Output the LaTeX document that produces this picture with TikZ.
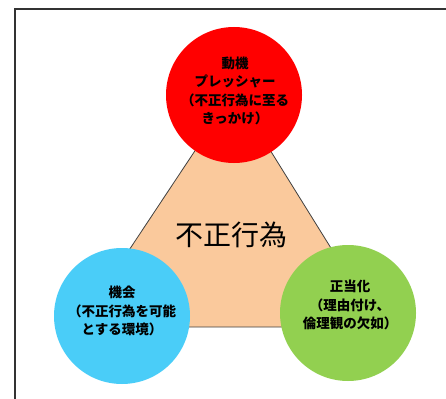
\documentclass[tikz,border=0pt]{standalone}
\usepackage{fontspec}
\newfontfamily\jp{Noto Sans CJK JP}
\begin{document}
\begin{tikzpicture}[x=1pt,y=-1pt,
  factor/.style={circle,minimum size=136pt,inner sep=0pt,draw=none},
  lbl/.style={align=center,font=\jp\bfseries\fontsize{13.5}{18.5}\selectfont,text=black},
  frameline/.style={draw=black!80,line width=1.6pt}]
\useasboundingbox (0,0) rectangle (446,398);
\fill[white] (0,0) rectangle (446,398);
\draw[frameline] (15,420) -- (15,9) -- (460,9);
% triangle
\coordinate (ta) at (234,92);
\coordinate (tl) at (78,327);
\coordinate (tr) at (380,327);
\filldraw[fill={rgb,255:red,250;green,201;blue,156},draw=black!75,line width=0.8pt] (ta) -- (tl) -- (tr) -- cycle;
\node[font=\jp\fontsize{28}{32}\selectfont] (fraud) at (231,235) {不正行為};
% circles
\node[factor,fill={rgb,255:red,255;green,0;blue,0}] (motive) at (234,95) {};
\node[factor,fill={rgb,255:red,74;green,205;blue,248}] (opp) at (122,316) {};
\node[factor,fill={rgb,255:red,146;green,208;blue,80}] (rat) at (348,313) {};
\node[lbl] (motivet) at (235,91) {動機\\プレッシャー\\（不正行為に至る\\きっかけ）};
\node[lbl] (oppt) at (122,311) {機会\\（不正行為を可能\\とする環境）};
\node[lbl] (ratt) at (350,305) {正当化\\（理由付け、\\倫理観の欠如）};
\end{tikzpicture}
\end{document}
